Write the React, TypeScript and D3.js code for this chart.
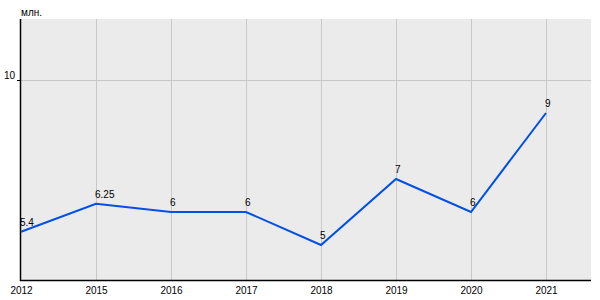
import React from "react";
import * as d3 from "d3";

const categories = ["2012", "2015", "2016", "2017", "2018", "2019", "2020", "2021"];
const values = [5.4, 6.25, 6, 6, 5, 7, 6, 9];
const labels = ["5.4", "6.25", "6", "6", "5", "7", "6", "9"];
const yTicks = [10];
const unitLabel = "млн.";

export default function App() {
  const W = 600, H = 300;
  const left = 21, right = 591, top = 19, bottom = 280;
  const step = 75;
  const x = d3.scalePoint<string>().domain(categories).range([left, left + step * (categories.length - 1)]);
  const y = d3.scaleLinear().domain([4, 10]).range([278, 80]);
  const line = d3.line<number>().x((_, i) => x(categories[i])!).y((d) => y(d));
  const font = "Arial, 'Liberation Sans', sans-serif";
  return (
    <svg width={W} height={H} style={{ position: "absolute", left: 0, top: 0 }} fontFamily={font}>
      <rect x={0} y={0} width={W} height={H} fill="#fff" />
      <rect x={left} y={top} width={right - left} height={bottom - top} fill="#ebebeb" />
      {categories.slice(1).map((c) => (
        <line key={c} x1={x(c)! + 0.5} x2={x(c)! + 0.5} y1={top} y2={bottom} stroke="#c8c8c8" strokeWidth={1} />
      ))}
      {yTicks.map((t) => (
        <g key={t}>
          <line x1={left} x2={right} y1={y(t) + 0.5} y2={y(t) + 0.5} stroke="#c8c8c8" strokeWidth={1} />
          <line x1={left - 4} x2={left} y1={y(t) + 0.5} y2={y(t) + 0.5} stroke="#000" strokeWidth={1} />
          <text x={left - 6} y={y(t) - 1} fontSize={10} textAnchor="end" fill="#000">{t}</text>
        </g>
      ))}
      <line x1={left - 0.5} x2={left - 0.5} y1={top} y2={bottom + 1} stroke="#000" strokeWidth={1.5} />
      <line x1={left - 1} x2={right} y1={bottom + 0.5} y2={bottom + 0.5} stroke="#000" strokeWidth={1.5} />
      <text x={left} y={16} fontSize={10} fill="#000">{unitLabel}</text>
      {categories.map((c) => (
        <text key={c} x={x(c)! + 0.5} y={294} fontSize={10} textAnchor="middle" fill="#000">{c}</text>
      ))}
      <path d={line(values)!} fill="none" stroke="#0050e6" strokeWidth={2} />
      {values.map((v, i) => (
        <text key={i} x={x(categories[i])! - 1} y={y(v) - 6} fontSize={10} fill="#000">{labels[i]}</text>
      ))}
    </svg>
  );
}
